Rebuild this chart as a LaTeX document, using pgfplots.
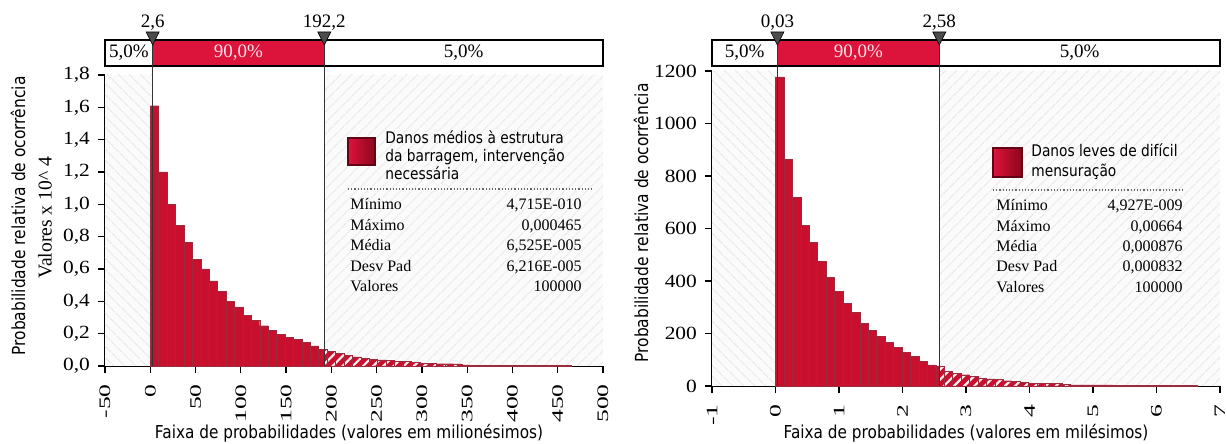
\documentclass[border=0pt]{standalone}
\usepackage{pgfplots}
\pgfplotsset{compat=1.18}
\usepackage{fontspec}
\setmainfont{Liberation Serif}
\newfontfamily\sansf[FakeStretch=0.86]{DejaVu Sans}
\usetikzlibrary{patterns.meta}
\definecolor{barred}{RGB}{200,16,46}
\definecolor{bardark}{RGB}{140,6,28}
\definecolor{boxred}{RGB}{220,20,60}

\pgfplotsset{
  myaxis/.style={
    scale only axis, anchor=south west, clip=false,
    axis lines=left, axis line style={-, black, line width=0.7pt},
    tick align=outside, major tick length=3.5pt,
    tick style={black, line width=0.6pt},
    /pgf/number format/assume math mode=true,
    yticklabel style={font=\fontsize{9.3}{9.3}\selectfont, xscale=1.15},
    xticklabel style={font=\fontsize{8}{8}\selectfont, rotate=90, anchor=east, xscale=1.6},
  },
  solidbar/.style={ybar interval, fill=barred, draw=bardark!85, line width=0.2pt},
  tailbar/.style={ybar interval, fill=barred, draw=bardark!85, line width=0.2pt,
    postaction={pattern={Lines[angle=45,distance=3.6pt,line width=1.1pt]}, pattern color=white!92!barred}},
}

\begin{document}
\begin{tikzpicture}
\path[use as bounding box] (0,0) rectangle (613.5pt,222pt);

% ---------------- LEFT CHART ----------------
\begin{axis}[myaxis, at={(52.5pt,39pt)}, width=249pt, height=145.5pt,
  xmin=-50, xmax=500, ymin=0, ymax=1.8,
  xtick={-50,0,50,100,150,200,250,300,350,400,450,500},
  ytick={0,0.2,0.4,0.6,0.8,1.0,1.2,1.4,1.6,1.8},
  yticklabel style={/pgf/number format/.cd, fixed, fixed zerofill, precision=1, use comma},
]
\path[fill=black!1.5] (axis cs:-50,0) rectangle (axis cs:2.6,1.8);
\path[pattern={Lines[angle=-45,distance=4pt,line width=0.5pt]}, pattern color=black!9] (axis cs:-50,0) rectangle (axis cs:2.6,1.8);
\path[fill=black!1.5] (axis cs:192.2,0) rectangle (axis cs:500,1.8);
\path[pattern={Lines[angle=45,distance=4pt,line width=0.5pt]}, pattern color=black!9] (axis cs:192.2,0) rectangle (axis cs:500,1.8);

\addplot[solidbar] table {
x y
0 1.61
9.3 1.20
18.6 1.00
27.9 0.87
37.2 0.765
46.5 0.66
55.8 0.60
65.1 0.527
74.4 0.46
83.7 0.398
93 0.365
102.3 0.313
111.6 0.282
120.9 0.249
130.2 0.219
139.5 0.197
148.8 0.176
158.1 0.165
167.4 0.148
176.7 0.125
186 0.103
192.2 0
};
\addplot[tailbar] table {
x y
192.2 0.103
195.3 0.090
204.6 0.078
213.9 0.066
223.2 0.056
232.5 0.049
241.8 0.043
251.1 0.038
260.4 0.033
269.7 0.030
279 0.027
288.3 0.024
297.6 0.018
306.9 0.016
316.2 0.014
325.5 0.014
334.8 0.013
344.1 0.007
353.4 0.006
362.7 0.006
372 0.006
381.3 0.005
390.6 0.005
399.9 0.005
409.2 0.005
418.5 0.004
427.8 0.004
437.1 0.004
446.4 0.004
455.7 0.003
465 0
};

% top box
\draw[black, line width=0.8pt, fill=white] ([yshift=4.5pt]axis cs:-50,1.8) rectangle ([yshift=17.5pt]axis cs:500,1.8);
\fill[boxred] ([yshift=4.5pt]axis cs:2.6,1.8) rectangle ([yshift=17.5pt]axis cs:192.2,1.8);
\draw[black, line width=0.8pt] ([yshift=4.5pt]axis cs:-50,1.8) rectangle ([yshift=17.5pt]axis cs:500,1.8);
\node[font=\fontsize{9.5}{9.5}\selectfont] at ([yshift=11pt]axis cs:-23.7,1.8) {5,0\%};
\node[font=\fontsize{9.5}{9.5}\selectfont, text=white!88!boxred] at ([yshift=11pt]axis cs:97.4,1.8) {90,0\%};
\node[font=\fontsize{9.5}{9.5}\selectfont] at ([yshift=11pt]axis cs:346.1,1.8) {5,0\%};
% markers
\draw[black!80, line width=0.6pt] (axis cs:2.6,0) -- ([yshift=15pt]axis cs:2.6,1.8);
\draw[black!80, line width=0.6pt] (axis cs:192.2,0) -- ([yshift=15pt]axis cs:192.2,1.8);
\fill[black!70, draw=black, line width=0.3pt] ([xshift=-3.25pt,yshift=21.5pt]axis cs:2.6,1.8) -- ([xshift=3.25pt,yshift=21.5pt]axis cs:2.6,1.8) -- ([yshift=15pt]axis cs:2.6,1.8) -- cycle;
\fill[black!70, draw=black, line width=0.3pt] ([xshift=-3.25pt,yshift=21.5pt]axis cs:192.2,1.8) -- ([xshift=3.25pt,yshift=21.5pt]axis cs:192.2,1.8) -- ([yshift=15pt]axis cs:192.2,1.8) -- cycle;
\node[anchor=base, font=\fontsize{9.5}{9.5}\selectfont] at ([yshift=23.5pt]axis cs:2.6,1.8) {2,6};
\node[anchor=base, font=\fontsize{9.5}{9.5}\selectfont] at ([yshift=23.5pt]axis cs:192.2,1.8) {192,2};
\end{axis}

% ---------------- RIGHT CHART ----------------
\begin{axis}[myaxis, at={(356pt,29pt)}, width=254pt, height=157.5pt,
  xmin=-1, xmax=7, ymin=0, ymax=1200,
  xtick={-1,0,1,2,3,4,5,6,7},
  ytick={0,200,400,600,800,1000,1200},
  yticklabel style={/pgf/number format/1000 sep={}},
]
\path[fill=black!1.5] (axis cs:-1,0) rectangle (axis cs:0.03,1200);
\path[pattern={Lines[angle=-45,distance=4pt,line width=0.5pt]}, pattern color=black!9] (axis cs:-1,0) rectangle (axis cs:0.03,1200);
\path[fill=black!1.5] (axis cs:2.58,0) rectangle (axis cs:7,1200);
\path[pattern={Lines[angle=45,distance=4pt,line width=0.5pt]}, pattern color=black!9] (axis cs:2.58,0) rectangle (axis cs:7,1200);

\addplot[solidbar] table {
x y
0 1178
0.1328 864
0.2656 718
0.3984 612
0.5312 546
0.664 474
0.7968 414
0.9296 361
1.0624 314
1.1952 281
1.328 239
1.4608 213
1.5936 188
1.7264 166
1.8592 147
1.992 127
2.1248 114
2.2576 94
2.3904 80
2.5232 74
2.58 0
};
\addplot[tailbar] table {
x y
2.58 74
2.656 55
2.7888 47
2.9216 43
3.0544 36
3.1872 30
3.32 27
3.4528 24
3.5856 20
3.7184 18
3.8512 15
3.984 11
4.1168 10
4.2496 9
4.3824 9
4.5152 5
4.648 4
4.7808 4
4.9136 4
5.0464 4
5.1792 4
5.312 3
5.4448 3
5.5776 3
5.7104 3
5.8432 3
5.976 3
6.1088 2
6.2416 2
6.3744 2
6.5072 2
6.64 0
};

\draw[black, line width=0.8pt, fill=white] ([yshift=2.5pt]axis cs:-1,1200) rectangle ([yshift=15.5pt]axis cs:7,1200);
\fill[boxred] ([yshift=2.5pt]axis cs:0.03,1200) rectangle ([yshift=15.5pt]axis cs:2.58,1200);
\draw[black, line width=0.8pt] ([yshift=2.5pt]axis cs:-1,1200) rectangle ([yshift=15.5pt]axis cs:7,1200);
\node[font=\fontsize{9.5}{9.5}\selectfont] at ([yshift=9pt]axis cs:-0.485,1200) {5,0\%};
\node[font=\fontsize{9.5}{9.5}\selectfont, text=white!88!boxred] at ([yshift=9pt]axis cs:1.305,1200) {90,0\%};
\node[font=\fontsize{9.5}{9.5}\selectfont] at ([yshift=9pt]axis cs:4.79,1200) {5,0\%};
\draw[black!80, line width=0.6pt] (axis cs:0.03,0) -- ([yshift=13pt]axis cs:0.03,1200);
\draw[black!80, line width=0.6pt] (axis cs:2.58,0) -- ([yshift=13pt]axis cs:2.58,1200);
\fill[black!70, draw=black, line width=0.3pt] ([xshift=-3.25pt,yshift=19.5pt]axis cs:0.03,1200) -- ([xshift=3.25pt,yshift=19.5pt]axis cs:0.03,1200) -- ([yshift=13pt]axis cs:0.03,1200) -- cycle;
\fill[black!70, draw=black, line width=0.3pt] ([xshift=-3.25pt,yshift=19.5pt]axis cs:2.58,1200) -- ([xshift=3.25pt,yshift=19.5pt]axis cs:2.58,1200) -- ([yshift=13pt]axis cs:2.58,1200) -- cycle;
\node[anchor=base, font=\fontsize{9.5}{9.5}\selectfont] at ([yshift=21.5pt]axis cs:0.03,1200) {0,03};
\node[anchor=base, font=\fontsize{9.5}{9.5}\selectfont] at ([yshift=21.5pt]axis cs:2.58,1200) {2,58};
\end{axis}

% ---------------- axis titles ----------------
\node[rotate=90, font=\sansf\fontsize{9}{9}\selectfont] at (9pt,114pt) {Probabilidade relativa de ocorrência};
\node[rotate=90, font=\fontsize{9.8}{9.8}\selectfont] at (22.5pt,113pt) {Valores x 10\^{} 4};
\node[font=\sansf\fontsize{8.9}{8.9}\selectfont] at (174.5pt,5.5pt) {Faixa de probabilidades (valores em milionésimos)};
\node[rotate=90, font=\sansf\fontsize{9}{9}\selectfont] at (320.5pt,110.5pt) {Probabilidade relativa de ocorrência};
\node[font=\sansf\fontsize{8.9}{8.9}\selectfont] at (483pt,5.5pt) {Faixa de probabilidades (valores em milésimos)};

% ---------------- legends ----------------
\draw[bardark!70!black, line width=0.6pt, left color=boxred, right color=bardark] (174pt,139.5pt) rectangle (187.5pt,153pt);
\node[anchor=west, align=left, inner sep=0pt, font=\sansf\fontsize{8}{9}\selectfont] at (192.5pt,144.5pt) {Danos médios à estrutura\\da barragem, intervenção\\necessária};
\draw[black!60, densely dotted, line width=0.6pt] (174pt,127.5pt) -- (296.5pt,127.5pt);
\begin{scope}[every node/.style={inner sep=0pt, font=\fontsize{8}{8}\selectfont}]
\node[anchor=base west] at (175pt,117pt) {Mínimo};
\node[anchor=base west] at (175pt,106.5pt) {Máximo};
\node[anchor=base west] at (175pt,96.5pt) {Média};
\node[anchor=base west] at (175pt,86.2pt) {Desv Pad};
\node[anchor=base west] at (175pt,76.2pt) {Valores};
\node[anchor=base east] at (291pt,117pt) {4,715E-010};
\node[anchor=base east] at (291pt,106.5pt) {0,000465};
\node[anchor=base east] at (291pt,96.5pt) {6,525E-005};
\node[anchor=base east] at (291pt,86.2pt) {6,216E-005};
\node[anchor=base east] at (291pt,76.2pt) {100000};
\end{scope}

\draw[bardark!70!black, line width=0.6pt, left color=boxred, right color=bardark] (496.5pt,133.5pt) rectangle (511pt,148pt);
\node[anchor=west, align=left, inner sep=0pt, font=\sansf\fontsize{8}{10}\selectfont] at (515.5pt,141pt) {Danos leves de difícil\\mensuração};
\draw[black!60, densely dotted, line width=0.6pt] (496.5pt,127pt) -- (591.5pt,127pt);
\begin{scope}[every node/.style={inner sep=0pt, font=\fontsize{8}{8}\selectfont}]
\node[anchor=base west] at (498pt,116.5pt) {Mínimo};
\node[anchor=base west] at (498pt,106pt) {Máximo};
\node[anchor=base west] at (498pt,96pt) {Média};
\node[anchor=base west] at (498pt,86pt) {Desv Pad};
\node[anchor=base west] at (498pt,75.5pt) {Valores};
\node[anchor=base east] at (591.5pt,116.5pt) {4,927E-009};
\node[anchor=base east] at (591.5pt,106pt) {0,00664};
\node[anchor=base east] at (591.5pt,96pt) {0,000876};
\node[anchor=base east] at (591.5pt,86pt) {0,000832};
\node[anchor=base east] at (591.5pt,75.5pt) {100000};
\end{scope}
\end{tikzpicture}
\end{document}
